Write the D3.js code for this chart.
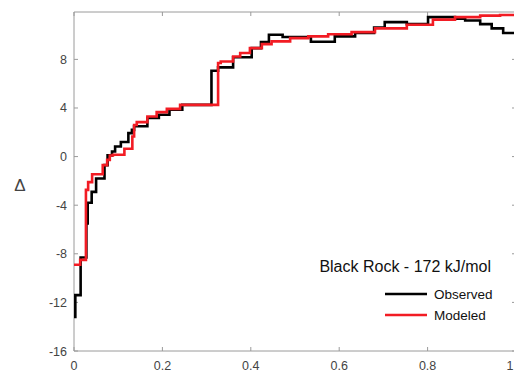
<!DOCTYPE html>
<html>
<head>
<meta charset="utf-8">
<script src="https://cdn.jsdelivr.net/npm/d3@7"></script>
<style>
html,body{margin:0;padding:0;background:#fff;}
svg{display:block;font-family:"Liberation Sans",Arial,Helvetica,sans-serif;}
</style>
</head>
<body>
<svg id="chart" width="514" height="373"></svg>
<script>
// Observed (black) step series: x = step start, y = value
const observedX = [0.000,0.003,0.015,0.028,0.031,0.040,0.050,0.069,0.076,0.086,0.093,0.106,0.123,0.131,0.136,0.166,0.192,0.216,0.245,0.311,0.326,0.360,0.402,0.423,0.441,0.472,0.536,0.590,0.636,0.679,0.703,0.753,0.801,0.862,0.885,0.919,0.945,0.971];
const observedY = [-13.2,-11.4,-8.3,-5.5,-3.8,-2.9,-1.8,-0.7,0.1,0.42,0.83,1.2,1.93,2.2,2.5,3.17,3.44,3.85,4.26,7.06,7.34,8.17,8.93,9.43,10.03,9.84,9.45,9.89,10.17,10.62,11.07,10.9,11.48,11.35,11.2,10.9,10.55,10.17];
// Modeled (red) step series
const modeledX = [0.000,0.014,0.027,0.032,0.041,0.065,0.075,0.081,0.088,0.114,0.132,0.136,0.142,0.166,0.187,0.210,0.240,0.326,0.332,0.360,0.376,0.398,0.425,0.447,0.489,0.530,0.575,0.628,0.681,0.753,0.812,0.862,0.919,0.964];
const modeledY = [-8.9,-8.5,-2.74,-2.1,-1.45,-0.7,-0.27,0.09,0.15,0.64,1.65,2.6,2.84,3.3,3.66,3.93,4.26,7.7,7.83,8.24,8.52,8.93,9.26,9.48,9.75,9.89,10.07,10.24,10.55,10.85,11.27,11.48,11.6,11.65];
const xTicks = [0,0.2,0.4,0.6,0.8,1];
const yTicks = [-16,-12,-8,-4,0,4,8];
const seriesNames = ["Observed","Modeled"];
const titleText = "Black Rock - 172 kJ/mol";
const yLabel = "\u0394";

const svg = d3.select("#chart");
const x = d3.scaleLinear().domain([0,1]).range([74,516]);
const y = d3.scaleLinear().domain([-16,11.9]).range([351,12]);
const axisColor = "#9a9a9a";
const textColor = "#444";

// box lines
const g = svg.append("g");
g.append("line").attr("x1",x(0)).attr("x2",x(1)).attr("y1",y(-16)).attr("y2",y(-16)).attr("stroke",axisColor).attr("stroke-width",1);
g.append("line").attr("x1",x(0)).attr("x2",x(1)).attr("y1",y(11.9)).attr("y2",y(11.9)).attr("stroke",axisColor).attr("stroke-width",1);
g.append("line").attr("x1",x(0)).attr("x2",x(0)).attr("y1",y(-16)).attr("y2",y(11.9)).attr("stroke",axisColor).attr("stroke-width",1);
g.append("line").attr("x1",x(1)).attr("x2",x(1)).attr("y1",y(-16)).attr("y2",y(11.9)).attr("stroke",axisColor).attr("stroke-width",1);

// x ticks (inward, bottom and top)
xTicks.forEach(t=>{
  g.append("line").attr("x1",x(t)).attr("x2",x(t)).attr("y1",y(-16)).attr("y2",y(-16)-4).attr("stroke",axisColor);
  g.append("line").attr("x1",x(t)).attr("x2",x(t)).attr("y1",y(11.9)).attr("y2",y(11.9)+4).attr("stroke",axisColor);
  g.append("text").attr("x",Math.min(x(t),510)).attr("y",370).attr("text-anchor","middle").attr("font-size",12.5).attr("fill",textColor).text(t===0?"0":String(t));
});
yTicks.forEach(t=>{
  g.append("line").attr("x1",x(0)).attr("x2",x(0)+4).attr("y1",y(t)).attr("y2",y(t)).attr("stroke",axisColor);
  g.append("line").attr("x1",x(1)).attr("x2",x(1)-4).attr("y1",y(t)).attr("y2",y(t)).attr("stroke",axisColor);
  g.append("text").attr("x",67).attr("y",y(t)+4.5).attr("text-anchor","end").attr("font-size",12.5).attr("fill",textColor).text(String(t));
});
g.append("text").attr("x",20).attr("y",191).attr("text-anchor","middle").attr("font-size",17).attr("fill",textColor).text(yLabel);

function stepData(xs, ys){
  const d = xs.map((v,i)=>[v,ys[i]]);
  d.push([1, ys[ys.length-1]]);
  return d;
}
const line = d3.line().x(d=>x(d[0])).y(d=>y(d[1])).curve(d3.curveStepAfter);
const colors = ["#000000","#f21c24"];
svg.append("path").datum(stepData(observedX,observedY)).attr("d",line).attr("fill","none").attr("stroke",colors[0]).attr("stroke-width",2.6);
svg.append("path").datum(stepData(modeledX,modeledY)).attr("d",line).attr("fill","none").attr("stroke",colors[1]).attr("stroke-width",2.6);

// title & legend
svg.append("text").attr("x",491).attr("y",272).attr("text-anchor","end").attr("font-size",16).attr("fill","#111").text(titleText);
seriesNames.forEach((n,i)=>{
  const yy = 294 + i*21;
  svg.append("line").attr("x1",385).attr("x2",427).attr("y1",yy).attr("y2",yy).attr("stroke",colors[i]).attr("stroke-width",2.6);
  svg.append("text").attr("x",434).attr("y",yy+5).attr("font-size",13.5).attr("fill","#111").text(n);
});
</script>
</body>
</html>
